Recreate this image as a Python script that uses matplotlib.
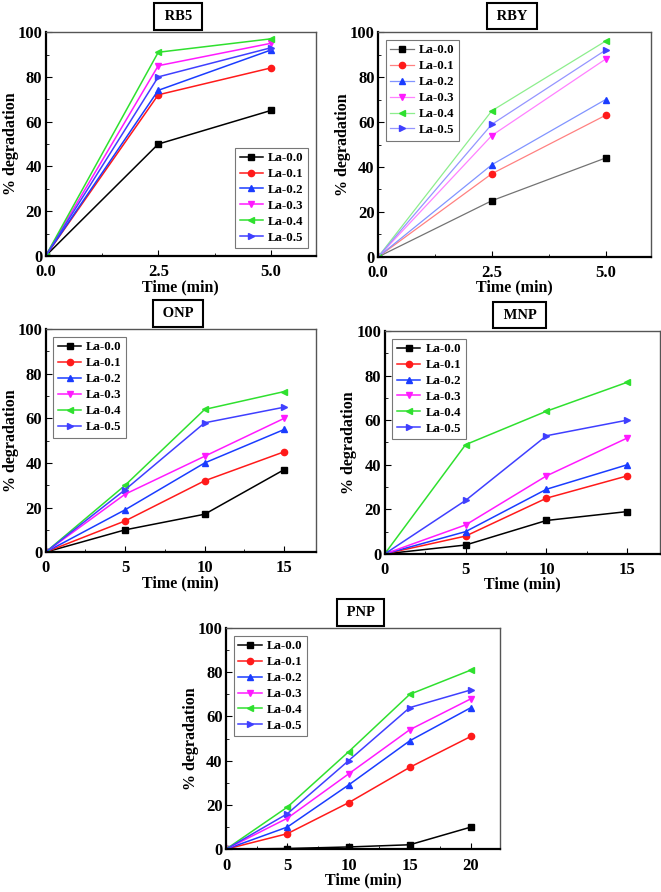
import matplotlib
matplotlib.use("Agg")
import matplotlib.pyplot as plt
import matplotlib.colors as mcolors
from matplotlib.ticker import MultipleLocator, FormatStrFormatter
import numpy as np

plt.rcParams.update({
    "font.family": ["Liberation Serif", "DejaVu Serif"],
    "font.weight": "bold",
    "axes.labelweight": "bold",
    "xtick.direction": "in", "ytick.direction": "in",
    "xtick.major.size": 4, "ytick.major.size": 4,
    "xtick.minor.size": 2.5, "ytick.minor.size": 2.5,
    "xtick.labelsize": 12, "ytick.labelsize": 12,
})

LABELS = ["La-0.0", "La-0.1", "La-0.2", "La-0.3", "La-0.4", "La-0.5"]
COLORS = ["#000000", "#ff1a1a", "#1a3cff", "#ff1aff", "#2fe02f", "#3f3fff"]
MARKERS = ["s", "o", "^", "v", "<", ">"]

# ── data ────────────────────────────────────────────────────────────────
t_short = [0, 2.5, 5]
t_mid = [0, 5, 10, 15]
t_long = [0, 5, 10, 15, 20]

rb5 = [[0, 50, 65], [0, 72, 84], [0, 74, 92],
       [0, 85, 95], [0, 91, 97], [0, 80, 93]]
rby = [[0, 25, 44], [0, 37, 63], [0, 41, 70],
       [0, 54, 88], [0, 65, 96], [0, 59, 92]]
onp = [[0, 10, 17, 37], [0, 14, 32, 45], [0, 19, 40, 55],
       [0, 26, 43, 60], [0, 30, 64, 72], [0, 28, 58, 65]]
mnp = [[0, 4, 15, 19], [0, 8, 25, 35], [0, 10, 29, 40],
       [0, 13, 35, 52], [0, 49, 64, 77], [0, 24, 53, 60]]
pnp = [[0, 0.3, 1, 2, 10], [0, 7, 21, 37, 51], [0, 10, 29, 49, 64],
       [0, 14, 34, 54, 68], [0, 19, 44, 70, 81], [0, 16, 40, 64, 72]]

fig = plt.figure(figsize=(6.61, 8.92), dpi=100)


def lighten(c, amt):
    # blend colour toward white (amt=0 -> unchanged)
    rgb = np.array(mcolors.to_rgb(c))
    return tuple(rgb + (1 - rgb) * amt)


def panel(rect, title, t, series, xmax, xstep, xfmt, legloc, light=0.0, lw=1.1):
    ax = fig.add_axes(rect)
    for ys, lab, c, m in zip(series, LABELS, COLORS, MARKERS):
        ax.plot(t, ys, color=lighten(c, light), lw=lw, marker=m, markersize=4.5,
                markerfacecolor=c, markeredgecolor=c, label=lab)
    ax.set_xlim(0, xmax); ax.set_ylim(0, 100)
    ax.xaxis.set_major_locator(MultipleLocator(xstep))
    ax.xaxis.set_minor_locator(MultipleLocator(xstep / 2))
    ax.xaxis.set_major_formatter(FormatStrFormatter(xfmt))
    ax.yaxis.set_major_locator(MultipleLocator(20))
    ax.yaxis.set_minor_locator(MultipleLocator(10))
    ax.tick_params(which="both", top=False, right=False)
    ax.tick_params(axis="y", pad=2.5)
    ax.tick_params(axis="x", pad=6)
    for s in ("bottom", "left"):
        ax.spines[s].set_linewidth(1.6)
    for s in ("top", "right"):
        ax.spines[s].set_linewidth(1.0); ax.spines[s].set_color("#555555")
    ax.set_xlabel("Time (min)", fontsize=11.5, labelpad=-1)
    ax.set_ylabel("% degradation", fontsize=11.5)
    ax.yaxis.set_label_coords(-0.1, 0.5)
    ax.text(0.49, 1.07, " " + title + " ", transform=ax.transAxes, ha="center", va="center",
            fontsize=10.5, fontweight="bold",
            bbox=dict(boxstyle="square,pad=0.45", fc="white", ec="black", lw=1.5))
    leg = ax.legend(loc=legloc, fontsize=9.3, frameon=True, fancybox=False,
                    edgecolor="#555555", handlelength=1.8, labelspacing=0.3,
                    borderpad=0.35, handletextpad=0.4, borderaxespad=0.6)
    leg.get_frame().set_linewidth(0.8)
    return ax


panel([0.069, 0.713, 0.409, 0.251], "RB5", t_short, rb5, 6, 2.5, "%.1f", "lower right")
panel([0.572, 0.712, 0.413, 0.252], "RBY", t_short, rby, 6, 2.5, "%.1f", "upper left",
      light=0.45, lw=0.9)
panel([0.069, 0.381, 0.409, 0.250], "ONP", t_mid, onp, 17, 5, "%d", "upper left")
panel([0.582, 0.379, 0.416, 0.250], "MNP", t_mid, mnp, 17, 5, "%d", "upper left")
panel([0.342, 0.048, 0.415, 0.248], "PNP", t_long, pnp, 22.4, 5, "%d", "upper left")

fig.savefig("out.png", dpi=100)
